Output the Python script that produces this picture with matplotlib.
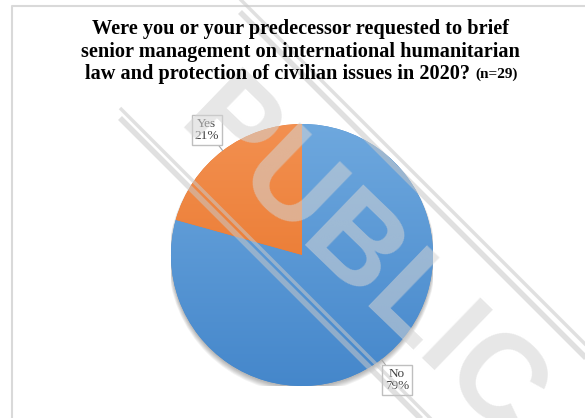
import numpy as np
import matplotlib.pyplot as plt
from matplotlib.colors import to_rgb
from matplotlib.patches import Circle

# Survey answers (n=29)
answers = ["No", "Yes"]
counts = [23, 6]
colors_top = ["#6ea8de", "#f39050"]
colors_bottom = ["#4587cb", "#e56f22"]

title_lines = ["Were you or your predecessor requested to brief",
               "senior management on international humanitarian",
               "law and protection of civilian issues in 2020?"]
title_note = "(n=29)"

W, H = 585, 418
fig = plt.figure(figsize=(W / 100, H / 100), dpi=100)
fig.patch.set_facecolor("white")

# Light grey frame of the chart area
frame = fig.add_axes([0, 0, 1, 1], zorder=0)
frame.set_xlim(0, W)
frame.set_ylim(H, 0)
frame.axis("off")
frame.plot([12, 12, W + 5], [H + 5, 6, 6], color="#d9d9d9", lw=1.5)

# Title, one line at a time
serif = "Liberation Serif"
tkw = dict(fontsize=14.6, fontweight="bold", family=serif, va="center")
for line, y in zip(title_lines[:2], [29, 51.5]):
    fig.text(300 / W, 1 - y / H, line, ha="center", **tkw)
fig.canvas.draw()
r = fig.canvas.get_renderer()
t1 = fig.text(0, 1 - 73.5 / H, title_lines[2] + " ", ha="left", **tkw)
t2 = fig.text(0, 1 - 74 / H, title_note, ha="left", va="center",
              fontsize=11, fontweight="bold", family=serif)
w1 = t1.get_window_extent(r).width
w2 = t2.get_window_extent(r).width
x0 = 301 - (w1 + w2) / 2
t1.set_x(x0 / W)
t2.set_x((x0 + w1) / W)

# Pie
cx, cy, rad = 302, 255, 131
ax = fig.add_axes([(cx - rad) / W, (H - cy - rad) / H, 2 * rad / W, 2 * rad / H], zorder=1)
ax.axis("off")

# soft drop shadow under the pie
for k in range(6):
    ax.add_patch(Circle((0, -0.012 - 0.004 * k), 1.0 + 0.004 * k, color="black",
                        alpha=0.05, lw=0, zorder=0))

wedges, _ = ax.pie(counts, startangle=90, counterclock=False, radius=1,
                   colors=colors_bottom, wedgeprops=dict(lw=0))
grad = np.linspace(0, 1, 256).reshape(-1, 1)
for w, ctop, cbot in zip(wedges, colors_top, colors_bottom):
    c0 = np.array(to_rgb(ctop))
    c1 = np.array(to_rgb(cbot))
    img = c0 + (c1 - c0) * grad[:, :, None]
    im = ax.imshow(np.repeat(img, 2, axis=1), extent=(-1, 1, -1, 1), origin="upper",
                   aspect="auto", zorder=2)
    im.set_clip_path(w)

ax.set_xlim(-1, 1)
ax.set_ylim(-1, 1)

# Data labels with leader lines
total = sum(counts)
ang = 90
for name, c in zip(answers, counts):
    span = 360 * c / total
    mid = np.deg2rad(ang - span / 2)
    ang -= span
    edge = (np.cos(mid), np.sin(mid))
    lab = (1.2 * np.cos(mid), 1.2 * np.sin(mid))
    ax.annotate(f"{name}\n{round(100 * c / total)}%", xy=edge, xytext=lab,
                ha="center", va="center", fontsize=9.5, family=serif, color="#404040",
                linespacing=1.0,
                bbox=dict(boxstyle="square,pad=0.22", fc="white", ec="#bfbfbf", lw=1),
                arrowprops=dict(arrowstyle="-", color="#a6a6a6", lw=0.8,
                                shrinkA=0, shrinkB=0),
                annotation_clip=False, zorder=5)

# "PUBLIC" stamp over the whole chart
wm = fig.add_axes([0, 0, 1, 1], zorder=3)
wm.set_xlim(0, W)
wm.set_ylim(H, 0)
wm.axis("off")
wm_col = "#c8c8c8"
wm_alpha = 0.55
xs = np.array([120, 600])
for off, lw in [(-12, 2.5), (-2, 4)]:
    wm.plot(xs, xs + off, color=wm_col, lw=lw, alpha=wm_alpha, solid_capstyle="butt")
xx = np.array([240, 600])
for off, lw in [(-228, 4), (-241, 2.5)]:
    wm.plot(xx, xx + off, color=wm_col, lw=lw, alpha=wm_alpha, solid_capstyle="butt")
wm.text(360, 262, "PUBLIC", rotation=-44, rotation_mode="anchor", ha="center",
        va="center", fontsize=88, fontweight="bold", family="Liberation Sans",
        color="#d4d4d4", alpha=wm_alpha)

fig.savefig("out.png", dpi=100)
